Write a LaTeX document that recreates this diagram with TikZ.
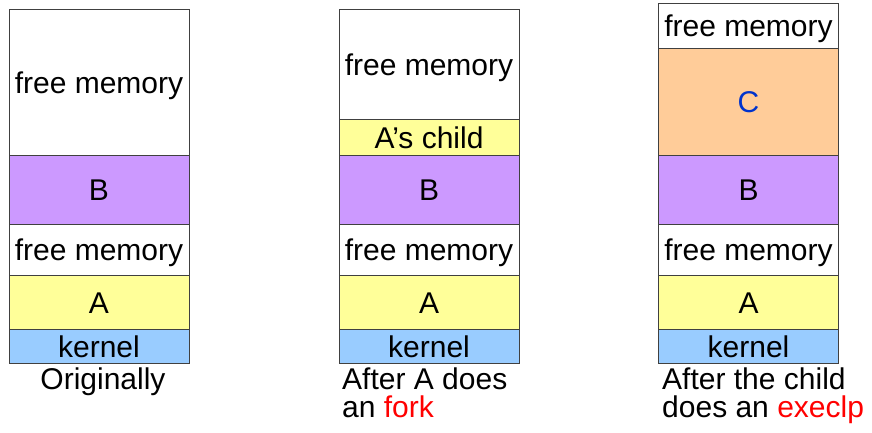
\documentclass[tikz,border=0pt]{standalone}
\usepackage{fontspec}
\setmainfont{Liberation Sans}
\usetikzlibrary{positioning}
\definecolor{procA}{HTML}{FFFF99}
\definecolor{procB}{HTML}{CC99FF}
\definecolor{procC}{HTML}{FFCC99}
\definecolor{kern}{HTML}{99CCFF}
\definecolor{textC}{HTML}{0033CC}
\begin{document}
\begin{tikzpicture}[x=1pt,y=-1pt,
	seg/.style={draw=black!75, line width=0.8pt, minimum width=180pt, inner sep=0pt, outer sep=0pt, text height=24pt, text depth=2pt, font=\fontsize{30}{30}\selectfont},
	caption/.style={anchor=north west, align=left, inner sep=0pt, font=\fontsize{30}{28}\selectfont}]
\useasboundingbox (0,0) rectangle (872,432);

\begin{scope}
	\node[seg, minimum height=146pt, anchor=north] (free1) at (99,9) {free memory};
	\node[seg, fill=procB, minimum height=69pt, below=0pt of free1] (B1) {B};
	\node[seg, minimum height=51pt, below=0pt of B1] (gap1) {free memory};
	\node[seg, fill=procA, minimum height=54pt, below=0pt of gap1] (A1) {A};
	\node[seg, fill=kern, minimum height=34pt, below=0pt of A1] (kernel1) {kernel};

	\node[caption, anchor=north] (cap1) at (103,368) {Originally};
\end{scope}

\begin{scope}
	\node[seg, minimum height=110pt, anchor=north] (free2) at (429,9) {free memory};
	\node[seg, fill=procA, minimum height=36pt, below=0pt of free2] (child2) {A’s child};
	\node[seg, fill=procB, minimum height=69pt, below=0pt of child2] (B2) {B};
	\node[seg, minimum height=51pt, below=0pt of B2] (gap2) {free memory};
	\node[seg, fill=procA, minimum height=54pt, below=0pt of gap2] (A2) {A};
	\node[seg, fill=kern, minimum height=34pt, below=0pt of A2] (kernel2) {kernel};

	\node[caption] (cap2) at (342,368) {After A does\\an {\color{red}fork}};
\end{scope}

\begin{scope}
	\node[seg, minimum height=45pt, anchor=north] (free3) at (748.5,3) {free memory};
	\node[seg, fill=procC, text=textC, minimum height=107pt, below=0pt of free3] (C3) {C};
	\node[seg, fill=procB, minimum height=69pt, below=0pt of C3] (B3) {B};
	\node[seg, minimum height=51pt, below=0pt of B3] (gap3) {free memory};
	\node[seg, fill=procA, minimum height=54pt, below=0pt of gap3] (A3) {A};
	\node[seg, fill=kern, minimum height=34pt, below=0pt of A3] (kernel3) {kernel};

	\node[caption] (cap3) at (662,368) {After the child\\does an {\color{red}execlp}};
\end{scope}
\end{tikzpicture}
\end{document}
